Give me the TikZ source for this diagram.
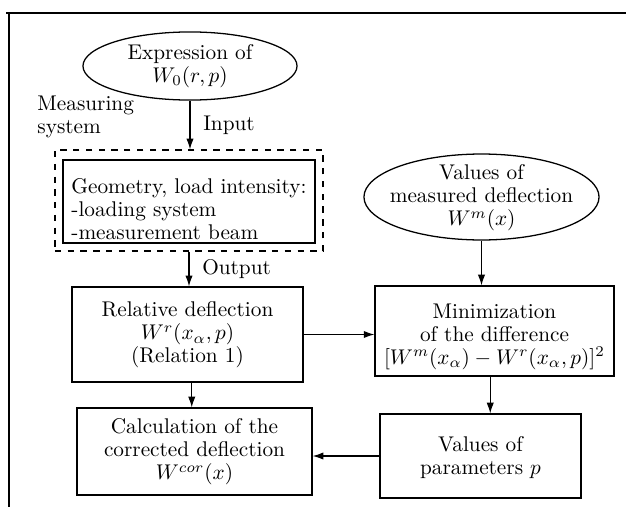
\documentclass[tikz,border=0pt]{standalone}
\usetikzlibrary{arrows.meta,shapes.geometric}
\begin{document}
\begin{tikzpicture}[x=0.47pt,y=-0.47pt,
  every node/.style={font=\fontsize{10}{10.8}\selectfont},
  boxnode/.style={draw,line width=0.6pt,inner sep=0pt,align=center},
  ell/.style={draw,ellipse,line width=0.6pt,inner sep=0pt},
  arr/.style={-{Latex[length=5pt,width=3.4pt]},line width=0.5pt},
  txt/.style={inner sep=0pt,align=center}]
\useasboundingbox (0,0) rectangle (626,507);
% page frame
\draw[line width=0.8pt] (6,13) -- (626,13);
\draw[line width=0.6pt] (9,13) -- (9,507);
% top ellipse
\node[ell,minimum width=100.6pt,minimum height=32pt] (e1) at (190,66) {};
\node[txt] (e1t) at (190,66) {Expression of\\$W_0(r,p)$};
\node[txt,anchor=west,align=left] (meas) at (37,117) {Measuring\\system};
% measuring system
\node[draw,dashed,line width=0.6pt,minimum width=126pt,minimum height=47.5pt,inner sep=0pt] (dash) at (189,200.5) {};
\node[boxnode,minimum width=118.4pt,minimum height=39pt] (geo) at (189,201.5) {};
\node[txt,align=left,anchor=west] (geot) at (71,209) {Geometry, load intensity:\\-loading system\\-measurement beam};
\draw[arr] (e1.south) -- (e1.south |- dash.north) node[midway,right=6pt,inner sep=0pt] (inp) {Input};
% relative deflection
\node[boxnode,minimum width=108.6pt,minimum height=44.7pt] (rel) at (187.5,334.5) {};
\node[txt] (relt) at (187.5,335) {Relative deflection\\$W^r(x_\alpha,p)$\\(Relation 1)};
\draw[arr] (dash.south) -- (dash.south |- rel.north) node[midway,right=6pt,inner sep=0pt] (outp) {Output};
% calculation
\node[boxnode,minimum width=110.5pt,minimum height=40.9pt] (calc) at (194.5,451.5) {};
\node[txt] (calct) at (194.5,452) {Calculation of the\\corrected deflection\\$W^{cor}(x)$};
% measured deflection ellipse
\node[ell,minimum width=110.5pt,minimum height=40.4pt] (e2) at (481.5,197) {};
\node[txt] (e2t) at (481.5,198) {Values of\\measured deflection\\$W^m(x)$};
% minimization
\node[boxnode,minimum width=112.3pt,minimum height=42.3pt] (min) at (494.5,331) {};
\node[txt] (mint) at (494.5,337) {Minimization\\of the difference\\$[W^m(x_\alpha)-W^r(x_\alpha,p)]^2$};
% values of parameters
\node[boxnode,minimum width=94.5pt,minimum height=39.5pt] (val) at (480.5,456) {};
\node[txt] (valt) at (480.5,458) {Values of\\parameters $p$};
% connectors
\draw[arr] (e2.south) -- (e2.south |- min.north);
\draw[arr] (rel.east) -- (rel.east -| min.west);
\draw[arr] ([xshift=-2pt]min.south) -- ([xshift=-2pt]min.south |- val.north);
\draw[arr] ([xshift=2pt]rel.south) -- ([xshift=2pt]rel.south |- calc.north);
\draw[arr] (val.west) -- (val.west -| calc.east);
\end{tikzpicture}
\end{document}
